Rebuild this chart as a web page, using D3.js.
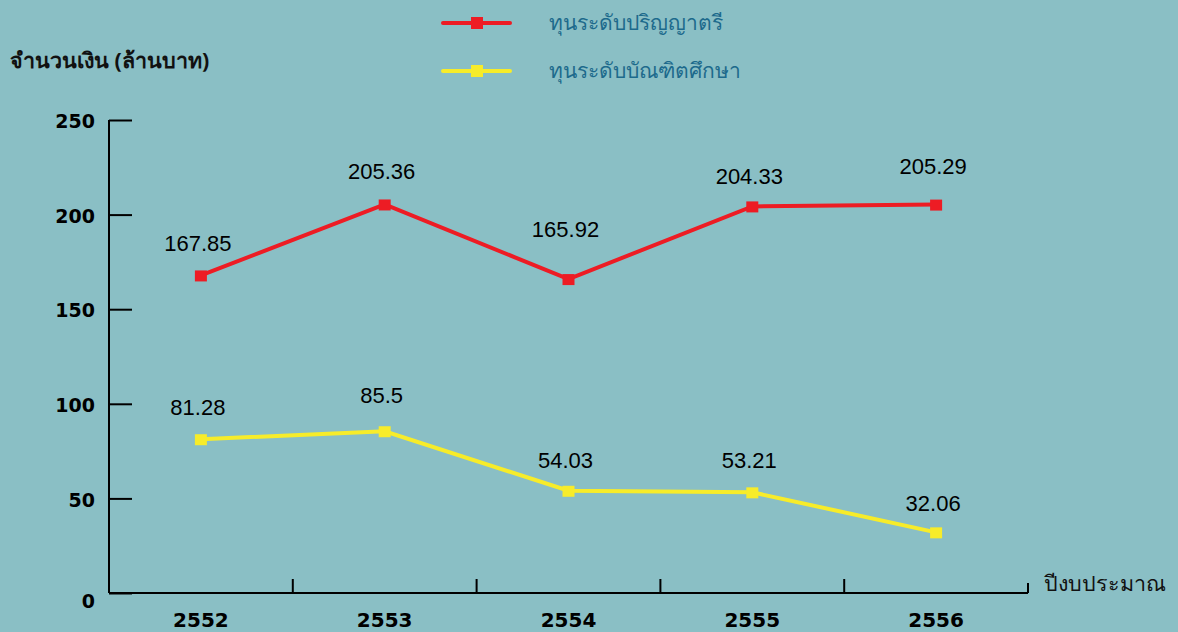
<!DOCTYPE html>
<html>
<head>
<meta charset="utf-8">
<script src="https://cdn.jsdelivr.net/npm/d3@7"></script>
<style>
  html, body { margin: 0; padding: 0; background: #8abfc5; }
  svg { display: block; }
</style>
</head>
<body>
<div id="chart"></div>
<script>
// chart data
var years = ['2552', '2553', '2554', '2555', '2556'];
var bachelorValues = [167.85, 205.36, 165.92, 204.33, 205.29];
var graduateValues = [81.28, 85.5, 54.03, 53.21, 32.06];
var yTicks = [0, 50, 100, 150, 200, 250];
var seriesNames = ['ทุนระดับปริญญาตรี', 'ทุนระดับบัณฑิตศึกษา'];
var seriesColors = ['#ed1c24', '#f7ec2a'];

// label lift above each point (layout only)
var bachelorLift = [24, 25, 42, 22, 31];
var graduateLift = [24, 28, 23, 24, 21];

var W = 1178, H = 632;
var plotLeft = 109, plotRight = 1028, plotTop = 120, plotBottom = 593;

var svg = d3.select('#chart').append('svg')
  .attr('width', W).attr('height', H);

svg.append('rect').attr('width', W).attr('height', H).attr('fill', '#8abfc5');

var x = d3.scaleBand().domain(years).range([plotLeft, plotRight]).padding(0);
var y = d3.scaleLinear().domain([0, 250]).range([plotBottom, plotTop]);

// ── Y axis ────────────────────────────────────────
var yAxis = svg.append('g')
  .attr('transform', 'translate(' + plotLeft + ',0)')
  .call(d3.axisRight(y).tickValues(yTicks).tickSize(23).tickFormat(d3.format('d')));
yAxis.select('.domain').remove();
yAxis.selectAll('line').attr('stroke', '#000').attr('stroke-width', 2);
yAxis.selectAll('text')
  .attr('x', -14).attr('dy', '0.4em')
  .attr('text-anchor', 'end')
  .attr('font-family', 'DejaVu Sans, Verdana, sans-serif')
  .attr('font-weight', 'bold')
  .attr('font-size', 19)
  .attr('fill', '#000');
yAxis.selectAll('text').filter(function(d) { return d === 0; }).attr('dy', '0.75em');
svg.append('line')
  .attr('x1', plotLeft).attr('x2', plotLeft).attr('y1', plotTop).attr('y2', plotBottom)
  .attr('stroke', '#000').attr('stroke-width', 2);

// ── X axis ────────────────────────────────────────
svg.append('line')
  .attr('x1', plotLeft).attr('x2', plotRight).attr('y1', plotBottom).attr('y2', plotBottom)
  .attr('stroke', '#000').attr('stroke-width', 2);
svg.selectAll('.xsep')
  .data(years.slice(1).concat(['end']))
  .enter().append('line')
  .attr('class', 'xsep')
  .attr('x1', function(d) { return d === 'end' ? plotRight : x(d); })
  .attr('x2', function(d) { return d === 'end' ? plotRight : x(d); })
  .attr('y1', function(d) { return d === 'end' ? plotBottom - 10 : plotBottom - 14; })
  .attr('y2', plotBottom)
  .attr('stroke', '#000').attr('stroke-width', 2);
svg.selectAll('.xlab')
  .data(years)
  .enter().append('text')
  .attr('class', 'xlab')
  .attr('x', function(d) { return x(d) + x.bandwidth() / 2; })
  .attr('y', 627)
  .attr('text-anchor', 'middle')
  .attr('font-family', 'DejaVu Sans, Verdana, sans-serif')
  .attr('font-weight', 'bold')
  .attr('font-size', 20)
  .attr('fill', '#000')
  .text(function(d) { return d; });

// axis titles
svg.append('text')
  .attr('x', 10).attr('y', 68)
  .attr('font-family', 'Tahoma, "Noto Sans", sans-serif')
  .attr('font-weight', 'bold')
  .attr('font-size', 21.5)
  .attr('fill', '#111')
  .text('จำนวนเงิน (ล้านบาท)');
svg.append('text')
  .attr('x', 1044).attr('y', 591)
  .attr('font-family', 'Tahoma, "Noto Sans", sans-serif')
  .attr('font-size', 21.5)
  .attr('fill', '#111')
  .text('ปีงบประมาณ');

// ── Series ────────────────────────────────────────
function cx(d, i) { return x(years[i]) + x.bandwidth() / 2; }

function drawSeries(values, color, lifts) {
  var g = svg.append('g');
  var line = d3.line().x(cx).y(function(d) { return y(d); });
  g.append('path')
    .datum(values)
    .attr('d', line)
    .attr('fill', 'none')
    .attr('stroke', color)
    .attr('stroke-width', 4);
  g.selectAll('rect')
    .data(values)
    .enter().append('rect')
    .attr('x', function(d, i) { return cx(d, i) - 6; })
    .attr('y', function(d) { return y(d) - 5; })
    .attr('width', 12).attr('height', 11)
    .attr('fill', color);
  g.selectAll('text')
    .data(values)
    .enter().append('text')
    .attr('x', function(d, i) { return cx(d, i) - 3; })
    .attr('y', function(d, i) { return y(d) - lifts[i]; })
    .attr('text-anchor', 'middle')
    .attr('font-family', 'Liberation Sans, Arial, sans-serif')
    .attr('font-size', 22)
    .attr('fill', '#000')
    .text(function(d) { return d; });
}

drawSeries(bachelorValues, seriesColors[0], bachelorLift);
drawSeries(graduateValues, seriesColors[1], graduateLift);

// ── Legend ────────────────────────────────────────
var legend = svg.append('g');
seriesNames.forEach(function(name, i) {
  var ly = 23 + i * 48;
  legend.append('line')
    .attr('x1', 443).attr('x2', 510).attr('y1', ly).attr('y2', ly)
    .attr('stroke', seriesColors[i]).attr('stroke-width', 4)
    .attr('stroke-linecap', 'round');
  legend.append('rect')
    .attr('x', 471).attr('y', ly - 6).attr('width', 12).attr('height', 12)
    .attr('fill', seriesColors[i]);
  legend.append('text')
    .attr('x', 549).attr('y', ly + 7)
    .attr('font-family', 'Tahoma, "Noto Sans", sans-serif')
    .attr('font-size', 21)
    .attr('fill', '#1d6a8c')
    .text(name);
});
</script>
</body>
</html>
